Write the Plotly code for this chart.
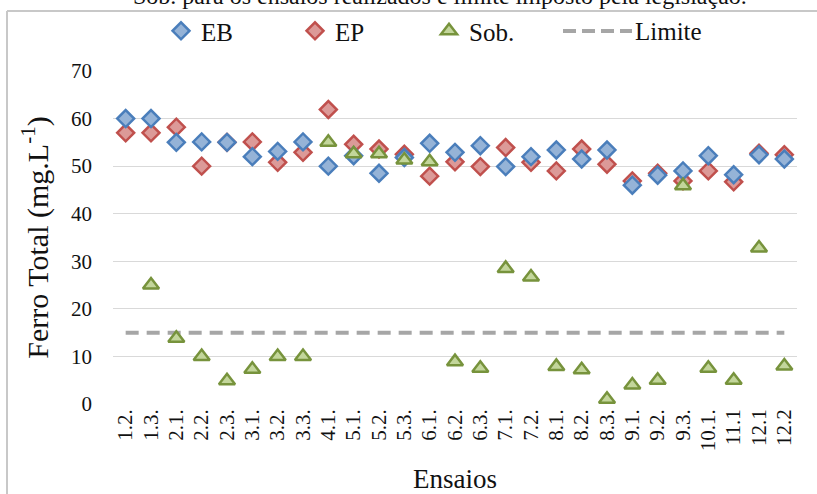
import plotly.graph_objects as go

# Ensaios (test runs) and total iron concentrations
ensaios = ["1.2.", "1.3.", "2.1.", "2.2.", "2.3.", "3.1.", "3.2.", "3.3.", "4.1.",
           "5.1.", "5.2.", "5.3.", "6.1.", "6.2.", "6.3.", "7.1.", "7.2.", "8.1.",
           "8.2.", "8.3.", "9.1.", "9.2.", "9.3.", "10.1.", "11.1", "12.1", "12.2"]

eb = [60, 60, 55, 55.1, 55, 52, 53.1, 55.1, 50, 52.2, 48.5, 51.8, 54.8,
      52.9, 54.3, 49.9, 52, 53.4, 51.5, 53.4, 46, 48.1, 49, 52.2, 48.2, 52.4, 51.5]
ep = [57, 57, 58.2, 50, 55, 55.1, 50.8, 52.9, 61.9, 54.6, 53.6, 52.5, 47.9,
      50.9, 49.9, 53.9, 50.8, 49, 53.6, 50.4, 46.9, 48.5, 46.9, 49, 46.7, 52.7, 52.4]
sob = [None, 25, 13.8, 10, 4.9, 7.3, 10, 10, 55, 52.6, 52.6, 51.3, 50.9,
       8.9, 7.5, 28.5, 26.7, 7.9, 7.2, 1, 4, 5, 45.9, 7.5, 5, 32.8, 8]
limite = [15] * len(ensaios)

y_ticks = [0, 10, 20, 30, 40, 50, 60, 70]

SERIF = "Liberation Serif"
INK = "#111111"
LIMIT_COLOR = "#a6a6a6"

# plot-area geometry in pixels
W, H = 817, 494
L, R, T, B = 113, 20, 71, 89.5
pw, ph = W - L - R, H - T - B


def px_x(x):
    return (x - L) / pw


def px_y(y):
    return (H - B - y) / ph


fig = go.Figure()

fig.add_trace(go.Scatter(
    x=ensaios, y=limite, name="Limite", mode="lines", showlegend=False,
    line=dict(color=LIMIT_COLOR, width=4, dash="13px,8px"),
))
fig.add_trace(go.Scatter(
    x=ensaios, y=ep, name="EP", mode="markers", legendrank=2,
    marker=dict(symbol="diamond", size=13, color="#dc9a98",
                line=dict(color="#c0504d", width=2.5)),
))
fig.add_trace(go.Scatter(
    x=ensaios, y=eb, name="EB", mode="markers", legendrank=1,
    marker=dict(symbol="diamond", size=13, color="#95b3d7",
                line=dict(color="#4a7ebb", width=2.5)),
))
fig.add_trace(go.Scatter(
    x=ensaios, y=sob, name="Sob.", mode="markers", legendrank=3,
    marker=dict(symbol="triangle-up", size=14, color="#c3d69b",
                line=dict(color="#77933c", width=2.5)),
))

# legend entry for the limit line (wider dashed sample)
fig.add_shape(type="line", xref="paper", yref="paper",
              x0=px_x(563), x1=px_x(632), y0=px_y(31), y1=px_y(31),
              line=dict(color=LIMIT_COLOR, width=4, dash="13px,6px"))
fig.add_annotation(text="Limite", xref="paper", yref="paper",
                   x=px_x(633), y=px_y(31), xanchor="left", yanchor="middle",
                   showarrow=False, font=dict(family=SERIF, size=25, color=INK))

# outer frame of the chart box (left and top edges)
frame = dict(color="#c8c8c8", width=2)
fig.add_shape(type="line", xref="paper", yref="paper",
              x0=px_x(7), x1=px_x(W + 5), y0=px_y(11), y1=px_y(11), line=frame)
fig.add_shape(type="line", xref="paper", yref="paper",
              x0=px_x(7), x1=px_x(7), y0=px_y(11), y1=px_y(H + 5), line=frame)

# caption line above the chart box
fig.add_annotation(
    text="Sob. para os ensaios realizados e limite imposto pela legislação.",
    xref="paper", yref="paper", x=px_x(440), y=px_y(11),
    xanchor="center", yanchor="bottom", showarrow=False,
    font=dict(family=SERIF, size=24, color=INK),
)

fig.update_layout(
    width=W, height=H,
    margin=dict(l=L, r=R, t=T, b=B, autoexpand=False),
    paper_bgcolor="white", plot_bgcolor="white",
    font=dict(family=SERIF, color=INK),
    showlegend=True,
    legend=dict(
        orientation="h", x=px_x(161), y=px_y(31),
        xanchor="left", yanchor="middle",
        entrywidth=89, entrywidthmode="pixels",
        font=dict(family=SERIF, size=25, color=INK),
        bgcolor="rgba(0,0,0,0)", itemwidth=30,
    ),
    xaxis=dict(
        type="category", categoryorder="array", categoryarray=ensaios,
        range=[-0.5, len(ensaios) - 0.5],
        tickangle=-90, showgrid=False, showline=False, zeroline=False,
        ticks="", tickfont=dict(family=SERIF, size=21, color=INK),
        title=dict(text="Ensaios", font=dict(family=SERIF, size=27, color=INK),
                   standoff=18),
    ),
    yaxis=dict(
        range=[0, 70], tickvals=y_ticks,
        showgrid=True, gridcolor="#d9d9d9", gridwidth=1,
        zeroline=False, showline=False, ticks="",
        ticklabelstandoff=20,
        tickfont=dict(family=SERIF, size=21, color=INK),
        title=dict(text="Ferro Total (mg.L<sup>-1</sup>)",
                   font=dict(family=SERIF, size=30, color=INK),
                   standoff=13),
    ),
)

fig.write_html("out.html")
